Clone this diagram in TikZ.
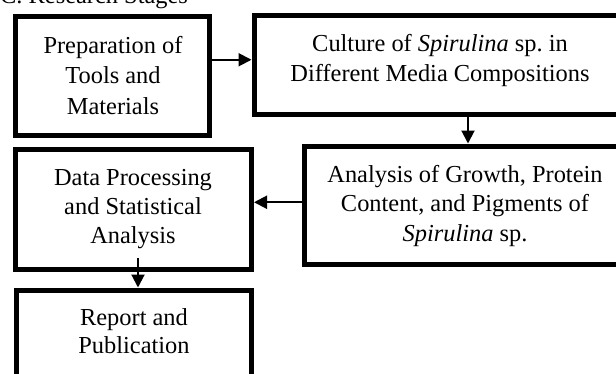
\documentclass[tikz,border=0pt]{standalone}
\usepackage{fontspec}
\setmainfont{Liberation Serif}
\usetikzlibrary{arrows.meta}
\tikzset{
  stagebox/.style={draw=black, line width=5pt, inner sep=0pt},
  lbl/.style={align=center, inner sep=0pt, anchor=base,
    font=\fontsize{24.4pt}{29.5pt}\selectfont},
  arr/.style={draw=black, line width=2pt, -{Triangle[length=13pt,width=13pt]}}
}
\begin{document}
\begin{tikzpicture}[x=1pt,y=-1pt]
\useasboundingbox (0,0) rectangle (616,373);
\clip (0,0) rectangle (616,373);
\node[anchor=base west, inner sep=0pt, font=\fontsize{24.4pt}{30pt}\selectfont] (title) at (0,3) {C. Research Stages};
% boxes
\node[stagebox, minimum width=194pt, minimum height=119.5pt] (b1) at (112.5,75.75) {};
\node[stagebox, minimum width=372pt, minimum height=99pt] (b2) at (440,64.5) {};
\node[stagebox, minimum width=321pt, minimum height=118.5pt] (b3) at (465,205.25) {};
\node[stagebox, minimum width=236pt, minimum height=120pt] (b4) at (133.5,209) {};
\node[stagebox, minimum width=235pt, minimum height=120pt] (b5) at (134,350) {};
% texts (anchor = baseline of last line)
\node[lbl, font=\fontsize{24.4pt}{30.5pt}\selectfont] (t1) at (113,114.3) {Preparation of\\Tools and\\Materials};
\node[lbl] (t2) at (440,81) {Culture of \textit{Spirulina} sp.\ in\\Different Media Compositions};
\node[lbl] (t3) at (465,241) {Analysis of Growth, Protein\\Content, and Pigments of\\\textit{Spirulina} sp.};
\node[lbl, font=\fontsize{24.4pt}{28.7pt}\selectfont] (t4) at (133,243.3) {Data Processing\\and Statistical\\Analysis};
\node[lbl, font=\fontsize{24.4pt}{28.3pt}\selectfont] (t5) at (134,353.3) {Report and\\Publication};
% connectors
\draw[arr] ([yshift=16pt]b1.east) -- ([yshift=16pt]b1.east -| b2.west);
\draw[arr] ([xshift=28pt]b2.south) -- ([xshift=28pt]b2.south |- b3.north);
\draw[arr] ([yshift=3pt]b3.west) -- ([yshift=3pt]b3.west -| b4.east);
\draw[arr] ([xshift=4.5pt,yshift=13.5pt]b4.south) -- ([xshift=4.5pt]b4.south |- b5.north);
\end{tikzpicture}
\end{document}
